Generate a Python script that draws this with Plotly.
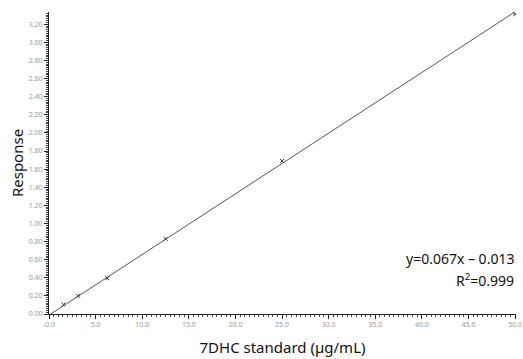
import plotly.graph_objects as go

# Standard concentrations (µg/mL) and measured responses
conc = [1.5625, 3.125, 6.25, 12.5, 25.0, 50.0]
response = [0.105, 0.20, 0.395, 0.83, 1.69, 3.31]

# Regression line endpoints (y = 0.067x - 0.013)
fit_x = [0.0, 50.0]
fit_y = [-0.013, 3.337]

x_tickvals = [0, 5, 10, 15, 20, 25, 30, 35, 40, 45, 50]
x_ticktext = ["-0.0", "5.0", "10.0", "15.0", "20.0", "25.0", "30.0", "35.0", "40.0", "45.0", "50.0"]
y_tickvals = [0.0, 0.2, 0.4, 0.6, 0.8, 1.0, 1.2, 1.4, 1.6, 1.8, 2.0, 2.2, 2.4, 2.6, 2.8, 3.0, 3.2]
y_ticktext = ["%.2f" % v for v in y_tickvals]

fig = go.Figure()
fig.add_trace(go.Scatter(x=fit_x, y=fit_y, mode="lines",
                         line=dict(color="#555555", width=1), hoverinfo="skip"))
fig.add_trace(go.Scatter(x=conc, y=response, mode="markers",
                         marker=dict(symbol="x-thin", size=4, line=dict(color="#333333", width=1))))

ann_font = dict(family="Noto Sans", size=14, color="#111111")
fig.add_annotation(x=1, y=0, xref="paper", yref="paper", xanchor="right", yanchor="middle",
                   text="y=0.067x – 0.013", showarrow=False, font=ann_font, yshift=56)
fig.add_annotation(x=1, y=0, xref="paper", yref="paper", xanchor="right", yanchor="middle",
                   text="R<sup>2</sup>=0.999", showarrow=False, font=ann_font, yshift=34)

fig.update_layout(
    width=523, height=359,
    margin=dict(l=49, r=7, t=12, b=45),
    plot_bgcolor="white", paper_bgcolor="white",
    showlegend=False,
    font=dict(family="Noto Sans", color="#111111"),
    xaxis=dict(range=[0, 50.1], tickvals=x_tickvals, ticktext=x_ticktext, automargin=False,
               showgrid=False, zeroline=False, showline=True, linecolor="#222222", linewidth=1,
               ticks="outside", ticklen=4, tickcolor="#222222",
               tickfont=dict(size=7, color="#999999"),
               minor=dict(dtick=0.5, ticks="outside", ticklen=2, tickcolor="#444444"),
               title=dict(text="7DHC standard (µg/mL)", font=dict(size=15, color="#111111"), standoff=14)),
    yaxis=dict(range=[0, 3.335], tickvals=y_tickvals, ticktext=y_ticktext, automargin=False,
               showgrid=False, zeroline=False, showline=True, linecolor="#222222", linewidth=1,
               ticks="outside", ticklen=4, tickcolor="#222222",
               tickfont=dict(size=7, color="#999999"),
               minor=dict(dtick=0.02, ticks="outside", ticklen=2, tickcolor="#444444"),
               title=dict(text="Response", font=dict(size=15, color="#111111"), standoff=1)),
)
fig.write_html("out.html", config={"displayModeBar": False},
               post_script="document.body.style.margin='0';document.body.style.overflow='hidden';")
